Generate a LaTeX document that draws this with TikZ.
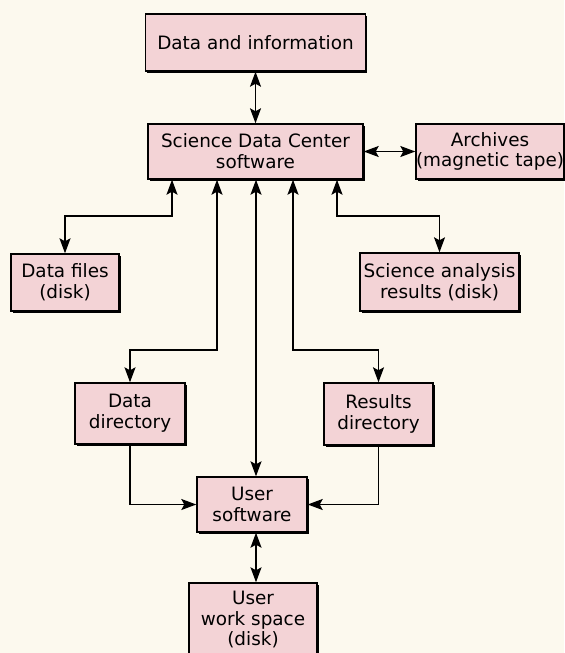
\documentclass[tikz,border=0pt]{standalone}
\usepackage{fontspec}
\setmainfont{DejaVu Sans}
\usetikzlibrary{arrows.meta,shadows}

\definecolor{paper}{RGB}{252,249,238}
\definecolor{boxpink}{RGB}{243,211,214}

\tikzset{
  blk/.style={draw=black, line width=0.7pt, fill=boxpink, align=center,
    inner sep=0pt, font=\fontsize{9.2}{10.4}\selectfont,
    drop shadow={shadow xshift=0.9pt, shadow yshift=-0.9pt, fill=black, opacity=1}},
  link/.style={line width=0.8pt},
  >={Stealth[length=7.5pt,width=5.5pt,inset=1.5pt]},
}

\begin{document}
\begin{tikzpicture}[x=0.5pt, y=-0.5pt]
    \path[use as bounding box, fill=paper] (0,0) rectangle (564,653);

    % boxes
    \node[blk, minimum width=110pt, minimum height=28.5pt] (info) at (255.5,42.5) {Data and information};
    \node[blk, minimum width=107.5pt, minimum height=27.5pt] (sdc) at (255.5,151.5) {Science Data Center\\software};
    \node[blk, minimum width=73pt, minimum height=27.5pt] (arch) at (490,151.5) {Archives\\(magnetic tape)};
    \node[blk, minimum width=54pt, minimum height=28.5pt] (files) at (65,282.5) {Data files\\(disk)};
    \node[blk, minimum width=79.5pt, minimum height=29pt] (sares) at (439.5,282) {Science analysis\\results (disk)};
    \node[blk, minimum width=55pt, minimum height=30.5pt] (ddir) at (130,413.5) {Data\\directory};
    \node[blk, minimum width=54.5pt, minimum height=31pt] (rdir) at (378.5,414) {Results\\directory};
    \node[blk, minimum width=55pt, minimum height=27.5pt] (usw) at (252,504.5) {User\\software};
    \node[blk, minimum width=64pt, minimum height=36.5pt] (uws) at (253,619.5) {User\\work space\\(disk)};

    % taps along the bottom of the center box
    \foreach \n/\x in {A/172, B/217, C/256, D/293, E/337}
        \coordinate (tap\n) at (sdc.south -| \x,0);

    % connectors
    \draw[link, <->] (info) -- (sdc);
    \draw[link, <->] (sdc) -- (arch);
    \draw[link, <->] (tapA) -- (tapA |- 0,216) -| (files.north);
    \draw[link, <->] (tapE) -- (tapE |- 0,216) -| (sares.north);
    \draw[link, <->] (tapB) -- (tapB |- 0,350) -| (ddir.north);
    \draw[link, <->] (tapD) -- (tapD |- 0,350) -| (rdir.north);
    \draw[link, <->] (tapC) -- (usw.north -| tapC);
    \draw[link, ->] (ddir.south) |- (usw.west);
    \draw[link, ->] (rdir.south) |- (usw.east);
    \draw[link, <->] (usw.south -| tapC) -- (uws.north -| tapC);
\end{tikzpicture}
\end{document}
